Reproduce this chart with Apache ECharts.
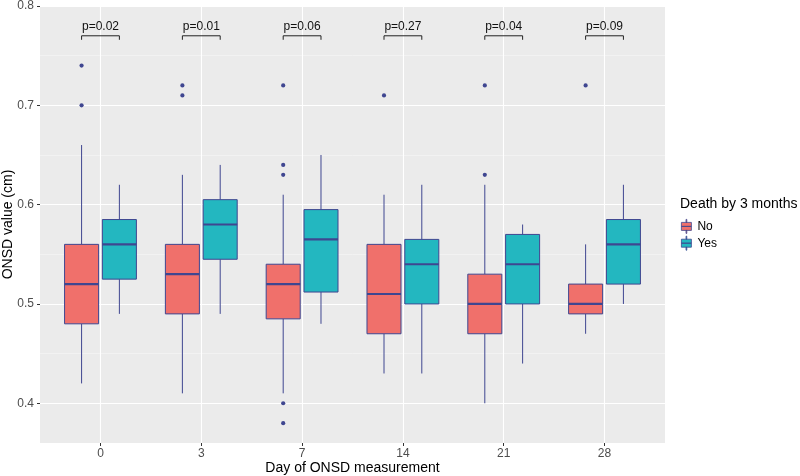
<!DOCTYPE html>
<html><head><meta charset="utf-8">
<script src="https://cdn.jsdelivr.net/npm/echarts@6/dist/echarts.min.js"></script>
<style>html,body{margin:0;padding:0;background:#fff}#c{width:800px;height:476px}</style>
</head><body><div id="c"></div>
<script>
// ---- data ----
const days = ['0', '3', '7', '14', '21', '28'];
// [lower whisker, Q1, median, Q3, upper whisker]
const noStats = [
  [0.42, 0.48, 0.52, 0.56, 0.66],
  [0.41, 0.49, 0.53, 0.56, 0.63],
  [0.41, 0.485, 0.52, 0.54, 0.61],
  [0.43, 0.47, 0.51, 0.56, 0.61],
  [0.40, 0.47, 0.50, 0.53, 0.62],
  [0.47, 0.49, 0.50, 0.52, 0.56]
];
const yesStats = [
  [0.49, 0.525, 0.56, 0.585, 0.62],
  [0.49, 0.545, 0.58, 0.605, 0.64],
  [0.48, 0.512, 0.565, 0.595, 0.65],
  [0.43, 0.50, 0.54, 0.565, 0.62],
  [0.44, 0.50, 0.54, 0.57, 0.58],
  [0.50, 0.52, 0.56, 0.585, 0.62]
];
// [day index, value]
const noOutliers = [
  [0, 0.74], [0, 0.70],
  [1, 0.72], [1, 0.71],
  [2, 0.72], [2, 0.64], [2, 0.63], [2, 0.40], [2, 0.38],
  [3, 0.71],
  [4, 0.72], [4, 0.63],
  [5, 0.72]
];
const pValues = ['p=0.02', 'p=0.01', 'p=0.06', 'p=0.27', 'p=0.04', 'p=0.09'];
const yTicks = [0.4, 0.5, 0.6, 0.7, 0.8];
const yMinorTicks = [0.45, 0.55, 0.65, 0.75];
const xTicks = [0, 1, 2, 3, 4, 5];

// ---- styling ----
const RED = '#F0706B';
const TEAL = '#23B7C0';
const BORDER = '#3F4690';
const DODGE = 0.1875;
const HALF = 0.16875;
const BRACKET_Y = 0.77;
const FONT = '"Liberation Sans", Arial, Helvetica, sans-serif';

function boxSeries(name, stats, color, sign) {
  return {
    type: 'custom', name: name, xAxisIndex: 0, yAxisIndex: 0,
    itemStyle: { color: color, borderColor: BORDER },
    encode: { x: 0, y: [1, 2, 3, 4, 5] },
    data: stats.map((s, i) => [i].concat(s)),
    silent: true,
    renderItem: function (params, api) {
      const c = api.value(0) + sign * DODGE;
      const lo = api.coord([c, api.value(1)]);
      const q1 = api.coord([c, api.value(2)]);
      const md = api.coord([c, api.value(3)]);
      const q3 = api.coord([c, api.value(4)]);
      const hi = api.coord([c, api.value(5)]);
      const xl = api.coord([c - HALF, 0.5])[0];
      const xr = api.coord([c + HALF, 0.5])[0];
      const ls = { stroke: BORDER, lineWidth: 1 };
      return {
        type: 'group',
        children: [
          { type: 'line', shape: { x1: lo[0], y1: lo[1], x2: q1[0], y2: q1[1] }, style: ls },
          { type: 'line', shape: { x1: q3[0], y1: q3[1], x2: hi[0], y2: hi[1] }, style: ls },
          { type: 'rect', shape: { x: xl, y: q3[1], width: xr - xl, height: q1[1] - q3[1] },
            style: { fill: color, stroke: BORDER, lineWidth: 1 } },
          { type: 'line', shape: { x1: xl, y1: md[1], x2: xr, y2: md[1] },
            style: { stroke: BORDER, lineWidth: 2.2 } }
        ]
      };
    }
  };
}

const chart = echarts.init(document.getElementById('c'), null, { renderer: 'canvas' });
chart.setOption({
  animation: false,
  backgroundColor: '#ffffff',
  textStyle: { fontFamily: FONT },
  title: {
    text: 'Death by 3 months', left: 680, top: 197, padding: 0,
    textStyle: { fontSize: 14, fontWeight: 'normal', color: '#000', fontFamily: FONT }
  },
  legend: {
    orient: 'vertical', left: 681, top: 219, padding: 0,
    itemWidth: 12, itemHeight: 14, itemGap: 2,
    icon: 'path://M0,3 H10 V7 H0 Z M0,7 H10 V11 H0 Z M4.6,0 H5.4 V3 H4.6 Z M4.6,11 H5.4 V14 H4.6 Z',
    textStyle: { fontSize: 12, color: '#000', fontFamily: FONT },
    selectedMode: false,
    data: [
      { name: 'No', itemStyle: { color: RED, borderColor: BORDER, borderWidth: 0.8 } },
      { name: 'Yes', itemStyle: { color: TEAL, borderColor: BORDER, borderWidth: 0.8 } }
    ]
  },
  grid: {
    left: 40, right: 135, top: 6, bottom: 33, show: true,
    backgroundColor: '#EBEBEB', borderWidth: 0,
    containLabel: false, outerBoundsMode: 'none'
  },
  xAxis: {
    type: 'value', min: -0.6, max: 5.6,
    name: 'Day of ONSD measurement', nameLocation: 'middle', nameGap: 18, nameMoveOverlap: false,
    nameTextStyle: { fontSize: 14, color: '#000', fontFamily: FONT },
    axisLine: { show: false, onZero: false },
    axisTick: { show: true, customValues: xTicks, length: 3, lineStyle: { color: '#333' } },
    axisLabel: { customValues: xTicks, formatter: v => days[Math.round(v)], fontSize: 12, color: '#4D4D4D', margin: 5, fontFamily: FONT },
    splitLine: { show: true, lineStyle: { color: '#ffffff', width: 1.1 } }
  },
  yAxis: [
    {
      type: 'value', min: 0.36, max: 0.8,
      name: 'ONSD value (cm)', nameLocation: 'middle', nameGap: 25, nameMoveOverlap: false,
      nameTextStyle: { fontSize: 14, color: '#000', fontFamily: FONT },
      axisLine: { show: false, onZero: false },
      axisTick: { show: true, customValues: yTicks, length: 3, lineStyle: { color: '#333' } },
      axisLabel: { customValues: yTicks, formatter: v => v.toFixed(1), fontSize: 12, color: '#4D4D4D', margin: 6, fontFamily: FONT },
      splitLine: { show: true, lineStyle: { color: '#ffffff', width: 1.1 } }
    },
    {
      type: 'value', min: 0.36, max: 0.8, position: 'left',
      axisLine: { show: false, onZero: false },
      axisTick: { show: false, customValues: yMinorTicks },
      axisLabel: { show: false, customValues: yMinorTicks },
      splitLine: { show: true, lineStyle: { color: '#F6F6F6', width: 0.6 } }
    }
  ],
  series: [
    boxSeries('No', noStats, RED, -1),
    boxSeries('Yes', yesStats, TEAL, 1),
    {
      type: 'custom', name: 'outliers', xAxisIndex: 0, yAxisIndex: 0, silent: true,
      data: noOutliers,
      encode: { x: 0, y: 1 },
      renderItem: function (params, api) {
        const p = api.coord([api.value(0) - DODGE, api.value(1)]);
        return { type: 'circle', shape: { cx: p[0], cy: p[1], r: 2.1 }, style: { fill: BORDER } };
      }
    },
    {
      type: 'custom', name: 'brackets', xAxisIndex: 0, yAxisIndex: 0, silent: true,
      data: pValues.map((p, i) => [i, BRACKET_Y]),
      encode: { x: 0, y: 1 },
      renderItem: function (params, api) {
        const i = api.value(0);
        const l = api.coord([i - DODGE, api.value(1)]);
        const r = api.coord([i + DODGE, api.value(1)]);
        return {
          type: 'group',
          children: [
            { type: 'polyline', shape: { points: [[l[0], l[1] + 4], [l[0], l[1]], [r[0], r[1]], [r[0], r[1] + 4]] },
              style: { stroke: '#222', lineWidth: 1, fill: null } },
            { type: 'text', style: { text: pValues[params.dataIndex], x: (l[0] + r[0]) / 2, y: l[1] - 9.5,
              align: 'center', verticalAlign: 'middle', fontSize: 12, fill: '#111', fontFamily: FONT } }
          ]
        };
      }
    }
  ]
});
</script>
</body></html>
